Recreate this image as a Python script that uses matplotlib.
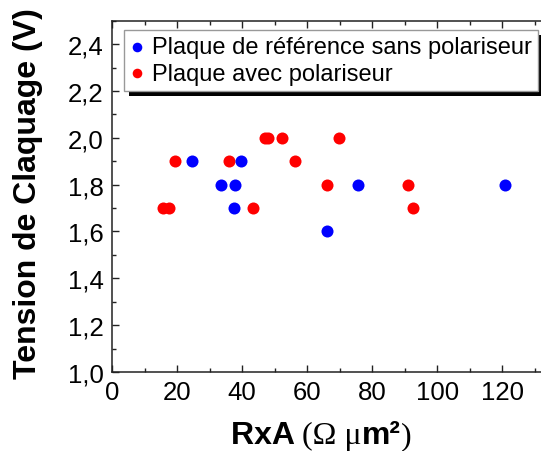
import matplotlib
matplotlib.use("Agg")
import matplotlib.pyplot as plt
from matplotlib.patches import Rectangle
from matplotlib.transforms import IdentityTransform
from matplotlib.offsetbox import TextArea, HPacker, AnchoredOffsetbox
from matplotlib.ticker import MultipleLocator, FuncFormatter

plt.rcParams['font.family'] = ['Liberation Sans', 'DejaVu Sans']

# reference plate (no polariser)
ref_x = [24.6, 33.6, 37.8, 39.8, 37.5, 66.1, 75.5, 121.0]
ref_y = [1.9, 1.8, 1.8, 1.9, 1.7, 1.6, 1.8, 1.8]
# plate with polariser
pol_x = [15.8, 17.5, 19.5, 36.1, 43.4, 47.0, 48.1, 52.4, 56.3, 66.1, 69.7, 91.0, 92.5]
pol_y = [1.7, 1.7, 1.9, 1.9, 1.7, 2.0, 2.0, 2.0, 1.9, 1.8, 2.0, 1.8, 1.7]

labels = ["Plaque de référence sans polariseur", "Plaque avec polariseur"]
colors = ["#0000ff", "#ff0000"]

W, H = 541, 452
fig = plt.figure(figsize=(W / 100, H / 100), dpi=100)
# axes runs past the right edge of the canvas, like the cropped original
x0, x1, y0, y1 = 112, 551, 373, 21.7
ax = fig.add_axes([x0 / W, 1 - y0 / H, (x1 - x0) / W, (y0 - y1) / H])

h_pol = ax.scatter(pol_x, pol_y, s=75, c=colors[1], linewidths=0, zorder=3)
h_ref = ax.scatter(ref_x, ref_y, s=75, c=colors[0], linewidths=0, zorder=3)

ax.set_xlim(0, 135)
ax.set_ylim(1.0, 2.5)
ax.xaxis.set_major_locator(MultipleLocator(20))
ax.xaxis.set_minor_locator(MultipleLocator(10))
ax.yaxis.set_major_locator(MultipleLocator(0.2))
ax.yaxis.set_minor_locator(MultipleLocator(0.1))
ax.yaxis.set_major_formatter(FuncFormatter(lambda v, p: f"{v:.1f}".replace(".", ",")))
ax.tick_params(which='both', direction='in', top=True, right=True, width=1, color='#222222')
ax.tick_params(which='major', length=5, labelsize=18.5, pad=6)
ax.tick_params(which='minor', length=3)
for sp in ax.spines.values():
    sp.set_linewidth(1.1)
    sp.set_color('#222222')

fig.text(28 / W, 1 - 194 / H, "Tension de Claquage (V)", rotation=90,
         ha='center', va='center', fontsize=23, fontweight='bold')

bold = dict(family='Liberation Sans', fontweight='bold', size=23)
serif = dict(family='Liberation Serif', size=23)
parts = [TextArea("RxA ", textprops=bold), TextArea("(Ω μ", textprops=serif),
         TextArea("m²", textprops=bold), TextArea(")", textprops=serif)]
xlab = AnchoredOffsetbox(loc='center', child=HPacker(children=parts, align='baseline', pad=0, sep=0),
                         pad=0, borderpad=0, frameon=False,
                         bbox_to_anchor=(321 / W, 1 - 436 / H), bbox_transform=fig.transFigure)
fig.add_artist(xlab)

leg = ax.legend([h_ref, h_pol], labels, loc='upper left',
                bbox_to_anchor=(124 / W, 1 - 31 / H), bbox_transform=fig.transFigure,
                borderaxespad=0, fancybox=False, framealpha=1, edgecolor='#999999',
                fontsize=17, markerscale=0.8, handlelength=0.6, handletextpad=0.35,
                borderpad=0.25, labelspacing=0.2)
leg.get_frame().set_linewidth(1)

# hard black drop shadow under the legend box
fig.canvas.draw()
bb = leg.get_window_extent()
ax.add_artist(Rectangle((bb.x0 + 5, bb.y0 - 5), bb.width, bb.height, transform=IdentityTransform(),
                        facecolor='black', edgecolor='none', zorder=4.9, clip_on=False))

fig.savefig("out.png", dpi=100)
